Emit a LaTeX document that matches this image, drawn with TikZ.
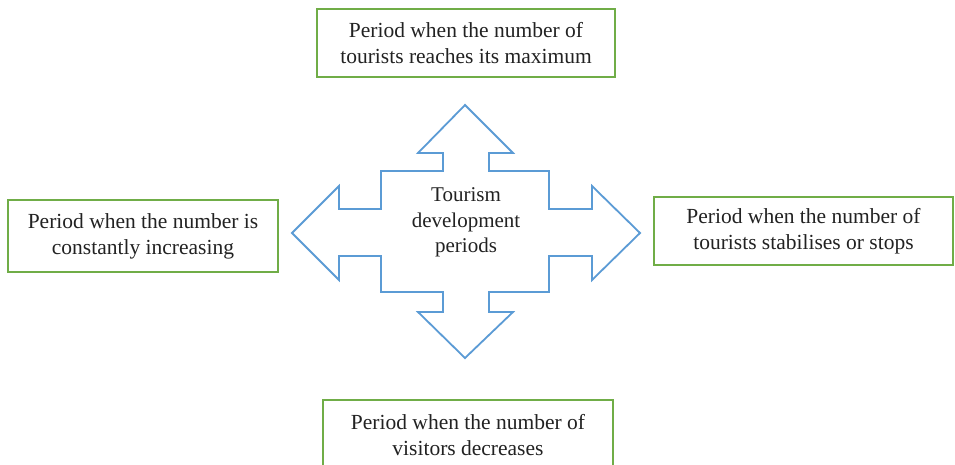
\documentclass[tikz,border=0pt]{standalone}
\usepackage{fontspec}
\setmainfont{Liberation Serif}
\definecolor{boxgreen}{HTML}{70AD47}
\definecolor{arrowblue}{HTML}{5B9BD5}
\definecolor{txt}{HTML}{222222}
\begin{document}
\begin{tikzpicture}[x=1pt,y=-1pt,
  periodbox/.style={draw=boxgreen,line width=2pt,fill=white,align=center,inner sep=0pt,
    text=txt,font=\fontsize{21.5}{26}\selectfont},
  centertext/.style={align=center,text=txt,font=\fontsize{21}{25.5}\selectfont}]
\useasboundingbox (0,0) rectangle (955,464);
\clip (0,0) rectangle (955,464);
\fill[white] (0,0) rectangle (955,464);
% four-way arrow
\draw[arrowblue,line width=1.8pt,line join=miter]
  (465,105) -- (513,153) -- (489,153) -- (489,171) -- (549,171) -- (549,209) -- (592,209) -- (592,186)
  -- (640,233) -- (592,280) -- (592,256) -- (549,256) -- (549,292) -- (489,292) -- (489,312) -- (513,312)
  -- (465,358) -- (418,312) -- (443,312) -- (443,292) -- (381,292) -- (381,256) -- (339,256) -- (339,280)
  -- (292,233) -- (339,186) -- (339,209) -- (381,209) -- (381,171) -- (443,171) -- (443,153) -- (418,153) -- cycle;
\node[centertext] (center) at (466,222.5) {Tourism\\development\\periods};
\node[periodbox,minimum width=298pt,minimum height=68pt] (top) at (466,43)
  {Period when the number of\\tourists reaches its maximum};
\node[periodbox,minimum width=270pt,minimum height=72pt] (left) at (143,236)
  {Period when the number is\\constantly increasing};
\node[periodbox,minimum width=299pt,minimum height=68pt] (right) at (803.5,231)
  {Period when the number of\\tourists stabilises or stops};
\node[periodbox,minimum width=290pt,minimum height=70pt] (bottom) at (468,435)
  {Period when the number of\\visitors decreases};
\end{tikzpicture}
\end{document}
